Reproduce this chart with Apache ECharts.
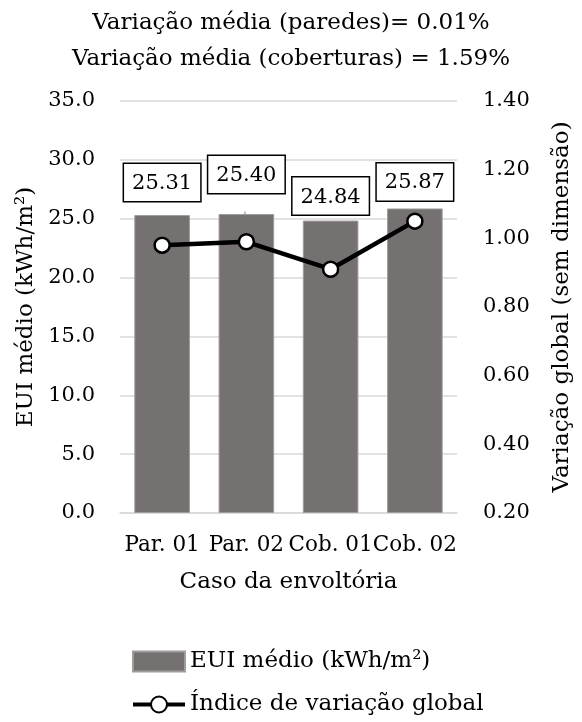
<!DOCTYPE html>
<html>
<head>
<meta charset="utf-8">
<script src="https://cdn.jsdelivr.net/npm/echarts@6/dist/echarts.min.js"></script>
<style>html,body{margin:0;padding:0;background:#fff}#c{width:582px;height:722px}</style>
</head>
<body>
<div id="c"></div>
<script>
var categories = ['Par. 01', 'Par. 02', 'Cob. 01', 'Cob. 02'];
var euiValues = [25.31, 25.40, 24.84, 25.87];
var indexValues = [0.98, 0.99, 0.91, 1.05];
var leftTicks = [0, 35, 5];
var rightTicks = [0.2, 1.4, 0.2];
var titleLines = ['Variação média (paredes)= 0.01%', 'Variação média (coberturas) = 1.59%'];
var labelDistances = [14, 21, 6, 8];

var FONT = 'DejaVu Serif';
var chart = echarts.init(document.getElementById('c'));
var barData = euiValues.map(function (v, i) {
  var item = { value: v, label: { distance: labelDistances[i] } };
  if (i === 1) {
    item.labelLine = { show: true, lineStyle: { color: '#A6A6A6', width: 1.5 } };
  }
  return item;
});
chart.setOption({
  animation: false,
  textStyle: { fontFamily: FONT },
  title: {
    text: titleLines.join('\n'),
    left: 'center',
    top: 0,
    padding: [5, 5],
    textStyle: { fontFamily: FONT, fontSize: 23, fontWeight: 'normal', color: '#000', lineHeight: 36 }
  },
  grid: { left: 120, right: 112, top: 101, bottom: 209, containLabel: false },
  legend: {
    orient: 'vertical',
    left: 126,
    top: 645,
    itemWidth: 52,
    itemHeight: 20,
    itemGap: 20,
    textStyle: { fontFamily: FONT, fontSize: 23, color: '#000' },
    data: [
      { name: 'EUI médio (kWh/m²)', icon: 'rect' },
      { name: 'Índice de variação global', lineStyle: { width: 4, color: '#000' } }
    ]
  },
  xAxis: {
    type: 'category',
    data: categories,
    name: 'Caso da envoltória',
    nameLocation: 'middle',
    nameGap: 58,
    nameTextStyle: { fontFamily: FONT, fontSize: 23, color: '#000' },
    axisLine: { lineStyle: { color: '#D9D9D9', width: 1.5 } },
    axisTick: { show: false },
    axisLabel: { fontFamily: FONT, fontSize: 21.5, color: '#000', margin: 21, interval: 0 }
  },
  yAxis: [
    {
      type: 'value',
      min: leftTicks[0], max: leftTicks[1], interval: leftTicks[2],
      name: 'EUI médio (kWh/m²)',
      nameLocation: 'middle',
      nameRotate: 90,
      nameGap: 78,
      nameTextStyle: { fontFamily: FONT, fontSize: 23, color: '#000' },
      axisLine: { show: false },
      axisTick: { show: false },
      splitLine: { lineStyle: { color: '#D9D9D9', width: 1.5 } },
      axisLabel: { fontFamily: FONT, fontSize: 21, color: '#000', margin: 25,
        formatter: function (v) { return v.toFixed(1); } }
    },
    {
      type: 'value',
      min: rightTicks[0], max: rightTicks[1], interval: rightTicks[2],
      name: 'Variação global (sem dimensão)',
      nameLocation: 'middle',
      nameRotate: 90,
      nameGap: 94,
      nameTextStyle: { fontFamily: FONT, fontSize: 23, color: '#000' },
      axisLine: { show: false },
      axisTick: { show: false },
      splitLine: { show: false },
      axisLabel: { fontFamily: FONT, fontSize: 21, color: '#000', margin: 26,
        formatter: function (v) { return v.toFixed(2); } }
    }
  ],
  series: [
    {
      name: 'EUI médio (kWh/m²)',
      type: 'bar',
      yAxisIndex: 0,
      barCategoryGap: '34%',
      data: barData,
      itemStyle: { color: '#767171', borderColor: '#A09C9C', borderWidth: 1 },
      label: {
        show: true,
        position: 'top',
        fontFamily: FONT,
        fontSize: 21,
        color: '#000',
        backgroundColor: '#fff',
        borderColor: '#000',
        borderWidth: 1.5,
        padding: [9, 8, 7, 8],
        formatter: function (p) { return p.value.toFixed(2); }
      }
    },
    {
      name: 'Índice de variação global',
      type: 'line',
      yAxisIndex: 1,
      data: indexValues,
      symbol: 'circle',
      symbolSize: 15,
      lineStyle: { color: '#000', width: 4.5 },
      itemStyle: { color: '#fff', borderColor: '#000', borderWidth: 2.5 },
      z: 3
    }
  ]
});
</script>
</body>
</html>
